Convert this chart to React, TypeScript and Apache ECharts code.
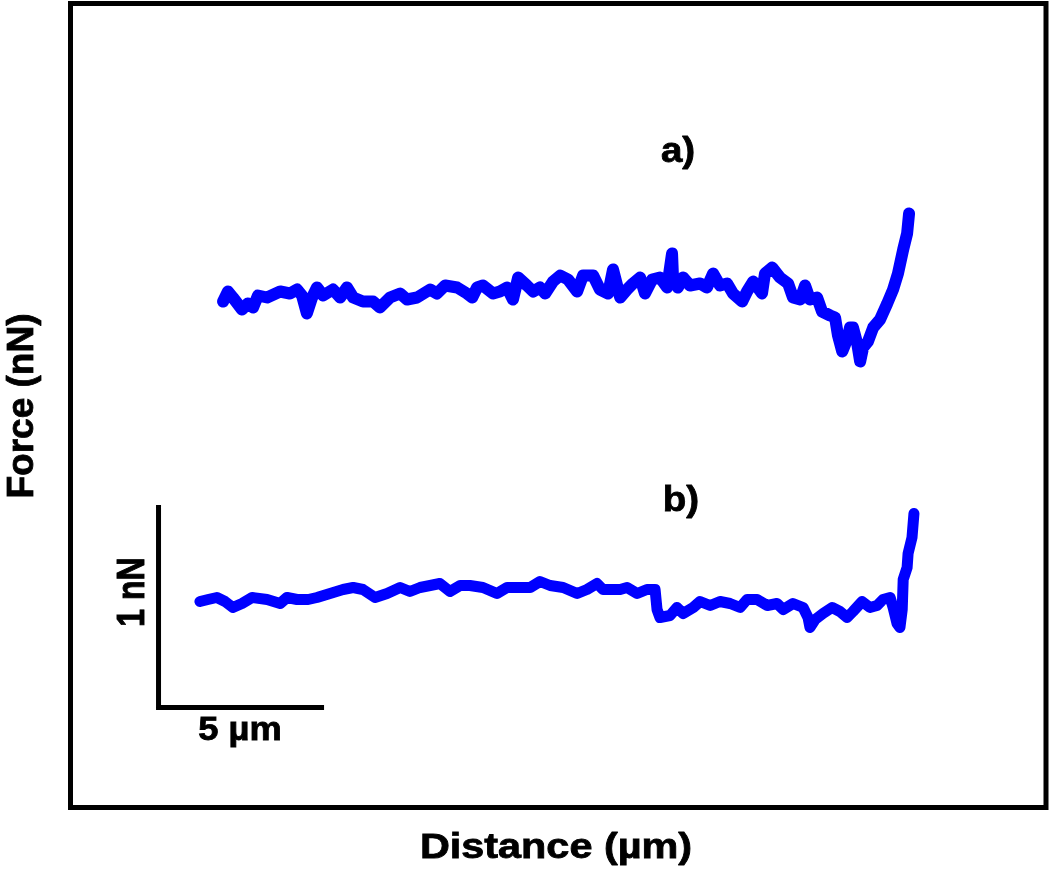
import React, { useEffect, useRef } from "react";
import * as echarts from "echarts";

// Trace a) — distance (µm) and force (nN)
const distanceA = [
  4.68, 4.83, 4.98, 5.26, 5.44, 5.6, 5.75, 6.03, 6.43, 6.73, 6.95, 7.1, 7.25, 7.41, 7.56, 7.75,
  8.05, 8.27, 8.48, 8.67, 8.97, 9.28, 9.49, 9.8, 10.11, 10.32, 10.63, 11.03, 11.24, 11.49, 11.86,
  12.16, 12.32, 12.47, 12.65, 12.96, 13.17, 13.39, 13.57, 13.73, 14.0, 14.19, 14.4, 14.56, 14.8,
  15.02, 15.26, 15.54, 15.72, 16.03, 16.24, 16.49, 16.64, 16.86, 17.07, 17.25, 17.47, 17.62, 17.84,
  18.08, 18.3, 18.45, 18.48, 18.63, 18.79, 19.0, 19.31, 19.52, 19.71, 19.92, 20.14, 20.32, 20.6,
  20.75, 20.94, 21.21, 21.3, 21.52, 21.76, 22.01, 22.16, 22.38, 22.53, 22.68, 22.9, 23.05, 23.3,
  23.45, 23.54, 23.67, 23.82, 23.91, 24.0, 24.13, 24.22, 24.31, 24.46, 24.62, 24.83, 25.05, 25.23,
  25.38, 25.54, 25.66, 25.72,
];
const forceA = [
  2.53, 2.58, 2.55, 2.49, 2.52, 2.5, 2.56, 2.55, 2.58, 2.57, 2.59, 2.56, 2.47, 2.55, 2.6, 2.56,
  2.59, 2.55, 2.6, 2.55, 2.53, 2.53, 2.5, 2.55, 2.57, 2.54, 2.55, 2.59, 2.57, 2.61, 2.6,
  2.57, 2.55, 2.6, 2.61, 2.57, 2.58, 2.6, 2.54, 2.65, 2.61, 2.58, 2.6, 2.57, 2.63,
  2.66, 2.64, 2.58, 2.66, 2.66, 2.59, 2.57, 2.69, 2.55, 2.59, 2.62, 2.65, 2.57, 2.64,
  2.65, 2.6, 2.77, 2.65, 2.6, 2.65, 2.61, 2.62, 2.6, 2.67, 2.61, 2.62, 2.57, 2.53,
  2.58, 2.63, 2.57, 2.67, 2.7, 2.65, 2.62, 2.55, 2.54, 2.61, 2.54, 2.55, 2.48, 2.46,
  2.45, 2.36, 2.28, 2.34, 2.4, 2.4, 2.32, 2.23, 2.3, 2.33, 2.4, 2.44, 2.52, 2.59,
  2.67, 2.79, 2.87, 2.97,
];

// Trace b) — distance (µm) and force (nN)
const distanceB = [
  3.97, 4.22, 4.49, 4.74, 4.98, 5.26, 5.57, 6.03, 6.43, 6.64, 6.95, 7.29, 7.56, 7.96, 8.36, 8.67,
  8.97, 9.34, 9.71, 10.11, 10.41, 10.72, 11.03, 11.33, 11.64, 11.95, 12.25, 12.65, 13.08, 13.39,
  13.79, 14.1, 14.4, 14.71, 15.11, 15.54, 15.84, 16.15, 16.33, 16.86, 17.07, 17.38, 17.68, 17.93,
  17.99, 18.08, 18.39, 18.6, 18.79, 19.1, 19.31, 19.62, 19.92, 20.23, 20.54, 20.75, 21.06, 21.37,
  21.67, 21.86, 22.16, 22.47, 22.62, 22.68, 22.84, 23.08, 23.36, 23.6, 23.82, 24.0, 24.28, 24.52,
  24.74, 24.92, 25.14, 25.23, 25.35, 25.44, 25.51, 25.54, 25.66, 25.69, 25.81, 25.87,
];
const forceB = [
  1.03, 1.04, 1.05, 1.03, 1.0, 1.02, 1.05, 1.04, 1.02, 1.05, 1.04, 1.04, 1.05, 1.07, 1.09, 1.1,
  1.09, 1.05, 1.07, 1.1, 1.08, 1.1, 1.11, 1.12, 1.08, 1.11, 1.11, 1.1, 1.07, 1.1,
  1.1, 1.1, 1.13, 1.11, 1.1, 1.07, 1.09, 1.12, 1.09, 1.09, 1.1, 1.07, 1.09, 1.09,
  0.99, 0.95, 0.96, 1.0, 0.97, 1.0, 1.03, 1.01, 1.03, 1.02, 1.0, 1.04, 1.04, 1.01,
  1.02, 0.99, 1.02, 1.0, 0.95, 0.9, 0.94, 0.97, 1.0, 0.98, 0.95, 0.98, 1.03, 1.0,
  1.01, 1.04, 1.05, 1.0, 0.92, 0.9, 0.99, 1.14, 1.2, 1.27, 1.35, 1.47,
];

// Scale bar: 1 nN vertical, 5 µm horizontal
const scaleBarX = [2.7, 2.7, 7.7];
const scaleBarY = [1.5, 0.5, 0.5];

const xTitle = "Distance (µm)";
const yTitle = "Force (nN)";
const traceLabels = ["a)", "b)"];
const scaleLabels = ["1 nN", "5 µm"];

const pairs = (xs: number[], ys: number[]) => xs.map((x, i) => [x, ys[i]]);

export default function App() {
  const ref = useRef<HTMLDivElement>(null);
  useEffect(() => {
    const chart = echarts.init(ref.current!, null, { renderer: "svg" });
    const fam = "'Liberation Sans', Arial, Helvetica, sans-serif";
    const txt = (text: string, x: number, y: number, size: number, extra: any = {}) => ({
      type: "text",
      x,
      y,
      ...extra,
      style: {
        text,
        fontFamily: fam,
        fontWeight: "bold",
        fontSize: size,
        fill: "#000",
        stroke: "#000",
        lineWidth: 0.8,
        align: "center",
        verticalAlign: "middle",
      },
    });
    chart.setOption({
      animation: false,
      grid: {
        left: 70.5,
        top: 3.5,
        right: 4,
        bottom: 67.5,
        show: true,
        borderColor: "#000",
        borderWidth: 5,
        backgroundColor: "transparent",
      },
      xAxis: { type: "value", min: 0, max: 29.92, show: false },
      yAxis: { type: "value", min: 0, max: 4.02, show: false },
      series: [
        {
          name: "a",
          type: "line",
          data: pairs(distanceA, forceA),
          showSymbol: false,
          lineStyle: { color: "#0000ff", width: 12, cap: "round", join: "round" },
          silent: true,
        },
        {
          name: "b",
          type: "line",
          data: pairs(distanceB, forceB),
          showSymbol: false,
          lineStyle: { color: "#0000ff", width: 11, cap: "round", join: "round" },
          silent: true,
        },
        {
          name: "scale",
          type: "line",
          data: pairs(scaleBarX, scaleBarY),
          showSymbol: false,
          lineStyle: { color: "#000", width: 5, cap: "square", join: "miter" },
          silent: true,
        },
      ],
      graphic: [
        txt(xTitle, 556, 845, 36, { scaleX: 1.15 }),
        txt(yTitle, 20, 406, 37, { rotation: Math.PI / 2 }),
        txt(traceLabels[0], 678, 150, 35, { scaleX: 1.1 }),
        txt(traceLabels[1], 681, 499, 35, { scaleX: 1.1 }),
        txt(scaleLabels[0], 130, 592, 32, { rotation: Math.PI / 2, scaleY: 1.2 }),
        txt(scaleLabels[1], 240, 729, 33, { scaleX: 1.1 }),
      ],
    });
    return () => chart.dispose();
  }, []);
  return (
    <div
      ref={ref}
      style={{ position: "fixed", left: 0, top: 0, width: 1050, height: 875 }}
    />
  );
}
